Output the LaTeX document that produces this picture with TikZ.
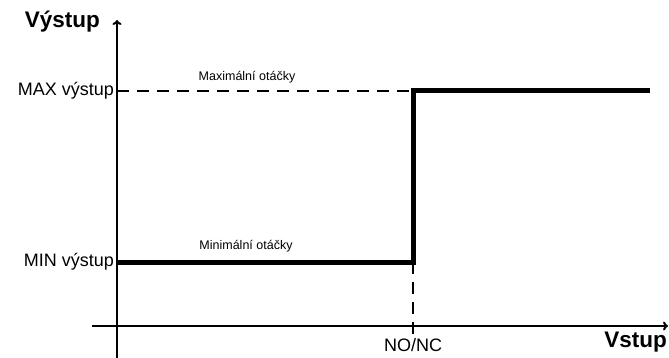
\documentclass[tikz,border=0pt]{standalone}
\usepackage{fontspec}
\setmainfont{Liberation Sans}
\usetikzlibrary{arrows.meta}

\tikzset{
  axis/.style={line width=2pt, -{To[length=5pt,width=9pt]}},
  level/.style={line width=2pt, dash pattern=on 12pt off 8pt},
  curve/.style={line width=5pt, line join=miter},
  lbl/.style={font=\fontsize{18}{20}\selectfont, inner sep=1pt},
  note/.style={font=\fontsize{12.5}{14}\selectfont, inner sep=1pt},
  ttl/.style={font=\fontsize{22.5}{25}\selectfont\bfseries, inner sep=1pt}
}

\begin{document}
\begin{tikzpicture}[x=1pt, y=-1pt]
\useasboundingbox (0,0) rectangle (669,358);

% axes
\coordinate (ybot) at (117,358);
\coordinate (ytop) at (117,20);
\coordinate (xleft) at (92,326);
\coordinate (xright) at (668,326);
\draw[axis] (ybot) -- (ytop);
\draw[axis] (xleft) -- (xright);

% levels
\coordinate (min) at (117,262);
\coordinate (max) at (117,91);
\coordinate (stepbot) at (413,262);
\coordinate (steptop) at (413,91);
\coordinate (tick) at (413,334);
\coordinate (maxend) at (650,91);

\draw[level] (max) -- (steptop);
\draw[level] (stepbot) -- (tick);
\draw[curve] (min) -- (stepbot) -- (steptop) -- (maxend);

% labels
\node[ttl, anchor=east] (vystup) at (101,22) {Výstup};
\node[ttl, anchor=east] (vstup) at (668,342) {Vstup};
\node[lbl, anchor=east] (maxlbl) at (115,91) {MAX výstup};
\node[lbl, anchor=east] (minlbl) at (115,262) {MIN výstup};
\node[note] (maxnote) at (247,77) {Maximální otáčky};
\node[note] (minnote) at (246,246) {Minimální otáčky};
\node[lbl] (nonc) at (413,345) {NO/NC};
\end{tikzpicture}
\end{document}
